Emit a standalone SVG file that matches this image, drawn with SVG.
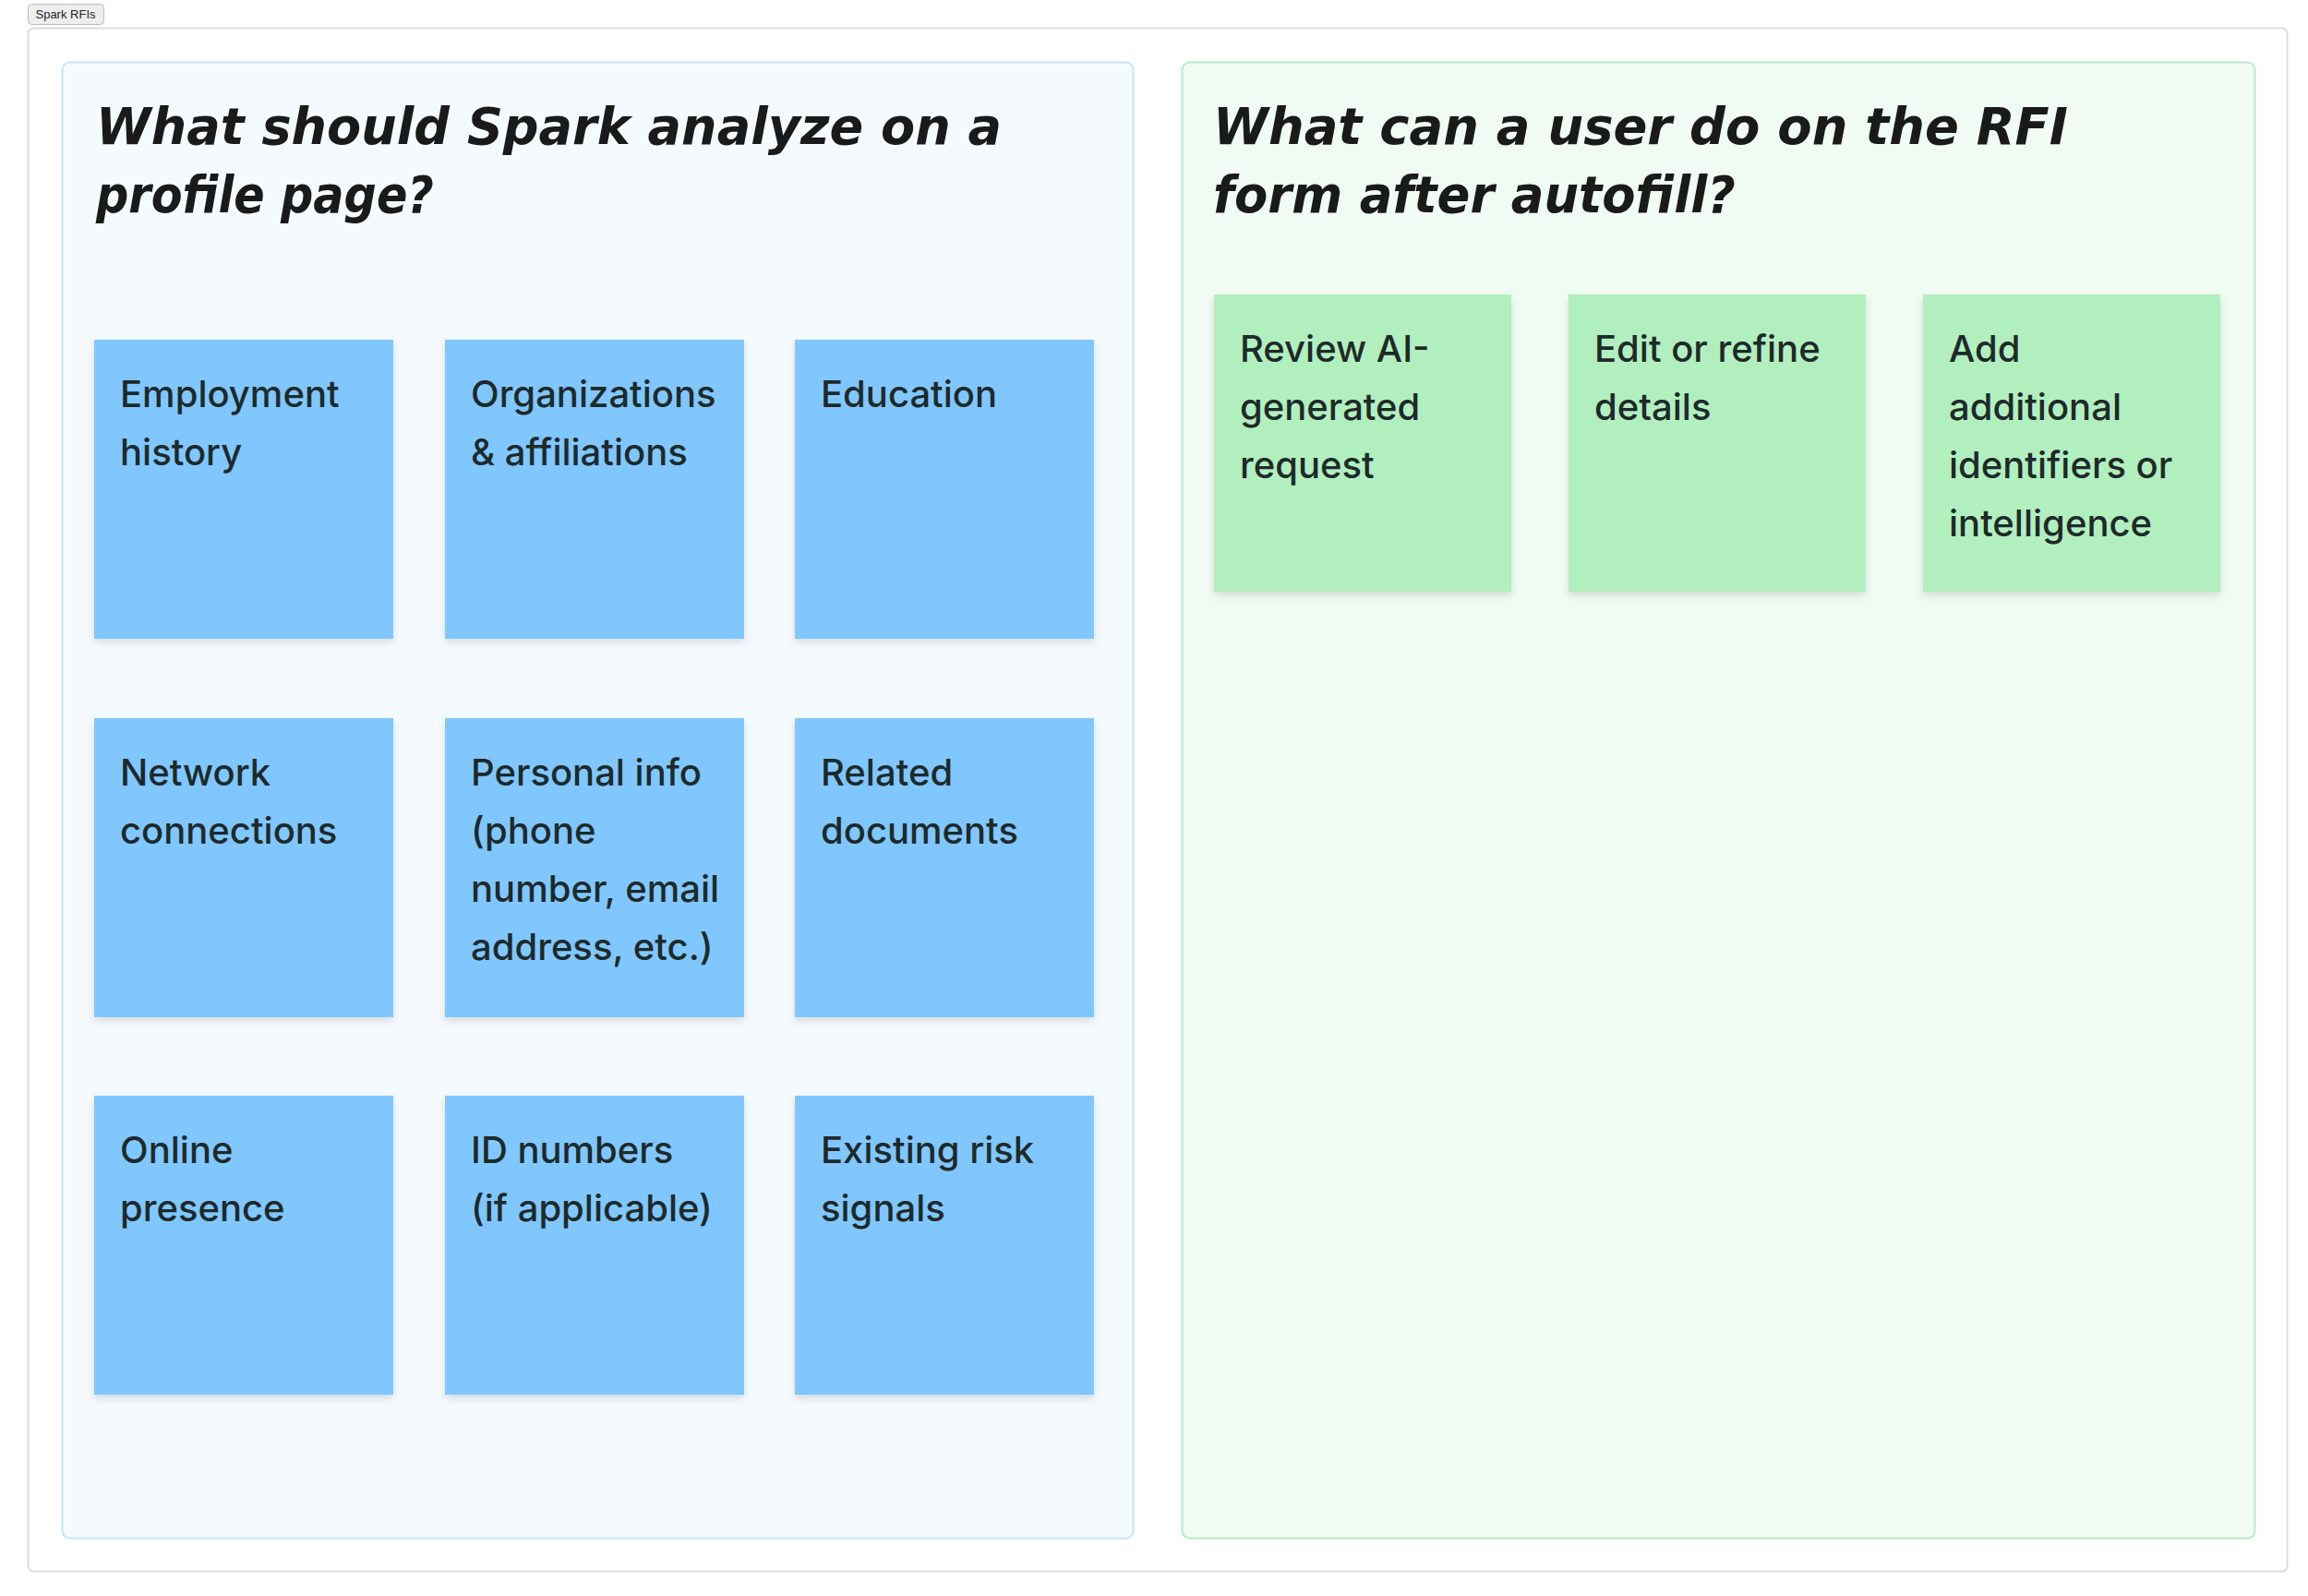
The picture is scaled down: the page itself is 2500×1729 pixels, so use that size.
<svg xmlns="http://www.w3.org/2000/svg" width="2500" height="1729" viewBox="0 0 2500 1729">
<defs>
<filter id="sh" x="-10%" y="-10%" width="120%" height="125%"><feDropShadow dx="0" dy="4" stdDeviation="4" flood-color="#000" flood-opacity="0.12"/></filter>
</defs>
<style>
.t{font-family:Inter,"Noto Sans",sans-serif;font-size:40px;font-weight:500;fill:#1d2a2a}
.h{font-family:"DejaVu Sans",sans-serif;font-style:italic;font-weight:bold;font-size:56px;fill:#1a1a1a}
.b{fill:#80C7FF;filter:url(#sh)}
.g{fill:#B2EFBE;filter:url(#sh)}
</style>
<rect width="2500" height="1729" fill="#fff"/>
<g id="tab"><rect x="30.5" y="4.5" width="82" height="22" rx="4" fill="#eee" stroke="#bbb"/><text x="71" y="20" text-anchor="middle" font-family="Liberation Sans,sans-serif" font-size="13" fill="#222">Spark RFIs</text></g>
<rect x="30.5" y="30.5" width="2447" height="1672" rx="6" fill="#fff" stroke="#ddd" stroke-width="2"/>
<g id="panel-left"><rect x="67.5" y="67.5" width="1160" height="1599" rx="8" fill="#F5FAFE" stroke="#C6E5F8" stroke-width="2"/>
<text class="h" x="104" y="156" textLength="981" lengthAdjust="spacingAndGlyphs">What should Spark analyze on a</text>
<text class="h" x="104" y="230" textLength="366" lengthAdjust="spacingAndGlyphs">profile page?</text></g>
<g id="panel-right"><rect x="1280.5" y="67.5" width="1162" height="1599" rx="8" fill="#F0FBF3" stroke="#B5EDC9" stroke-width="2"/>
<text class="h" x="1314" y="156" textLength="926" lengthAdjust="spacingAndGlyphs">What can a user do on the RFI</text>
<text class="h" x="1314" y="230" textLength="566" lengthAdjust="spacingAndGlyphs">form after autofill?</text></g>
<g id="n1"><rect class="b" x="102" y="368" width="324" height="324"/><text class="t" x="130" y="441">Employment</text><text class="t" x="130" y="504">history</text></g>
<g id="n2"><rect class="b" x="482" y="368" width="324" height="324"/><text class="t" x="510" y="441">Organizations</text><text class="t" x="510" y="504">&amp; affiliations</text></g>
<g id="n3"><rect class="b" x="861" y="368" width="324" height="324"/><text class="t" x="889" y="441">Education</text></g>
<g id="n4"><rect class="b" x="102" y="778" width="324" height="324"/><text class="t" x="130" y="851">Network</text><text class="t" x="130" y="914">connections</text></g>
<g id="n5"><rect class="b" x="482" y="778" width="324" height="324"/><text class="t" x="510" y="851">Personal info</text><text class="t" x="510" y="914">(phone</text><text class="t" x="510" y="977">number, email</text><text class="t" x="510" y="1040">address, etc.)</text></g>
<g id="n6"><rect class="b" x="861" y="778" width="324" height="324"/><text class="t" x="889" y="851">Related</text><text class="t" x="889" y="914">documents</text></g>
<g id="n7"><rect class="b" x="102" y="1187" width="324" height="324"/><text class="t" x="130" y="1260">Online</text><text class="t" x="130" y="1323">presence</text></g>
<g id="n8"><rect class="b" x="482" y="1187" width="324" height="324"/><text class="t" x="510" y="1260">ID numbers</text><text class="t" x="510" y="1323">(if applicable)</text></g>
<g id="n9"><rect class="b" x="861" y="1187" width="324" height="324"/><text class="t" x="889" y="1260">Existing risk</text><text class="t" x="889" y="1323">signals</text></g>
<g id="g1"><rect class="g" x="1315" y="319" width="322" height="322"/><text class="t" x="1343" y="392">Review AI-</text><text class="t" x="1343" y="455">generated</text><text class="t" x="1343" y="518">request</text></g>
<g id="g2"><rect class="g" x="1699" y="319" width="322" height="322"/><text class="t" x="1727" y="392">Edit or refine</text><text class="t" x="1727" y="455">details</text></g>
<g id="g3"><rect class="g" x="2083" y="319" width="322" height="322"/><text class="t" x="2111" y="392">Add</text><text class="t" x="2111" y="455">additional</text><text class="t" x="2111" y="518">identifiers or</text><text class="t" x="2111" y="581">intelligence</text></g>
<g id="connectors"/>
</svg>
